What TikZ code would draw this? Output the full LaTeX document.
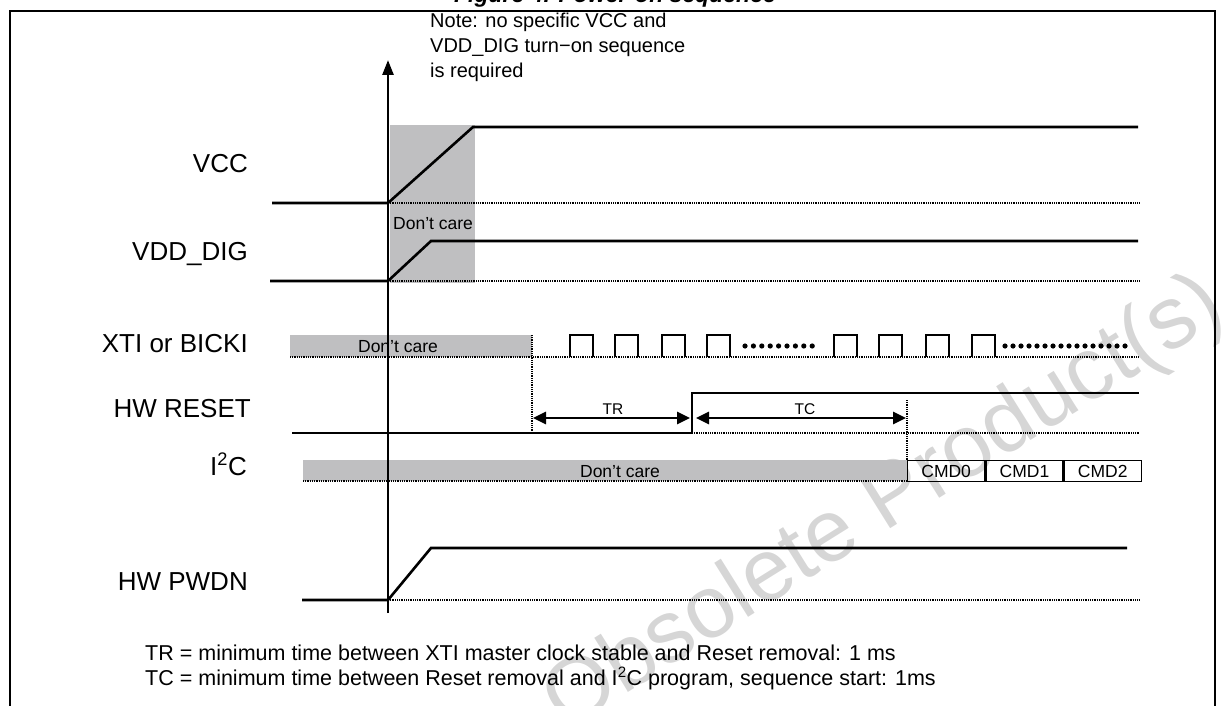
\documentclass[tikz,border=0pt]{standalone}
\usepackage{fontspec}
\setmainfont{Liberation Sans}
\usetikzlibrary{arrows.meta}
\definecolor{dcgray}{RGB}{191,191,193}
\definecolor{wmgray}{RGB}{214,214,214}
\begin{document}
\begin{tikzpicture}[x=1pt,y=-1pt,
  sig/.style={line width=2.6pt, line join=miter},
  refline/.style={line width=1.8pt, dash pattern=on 1pt off 0.8pt},
  pulse/.style={line width=1.5pt, line join=miter},
  lab/.style={font=\fontsize{26}{30}\selectfont, anchor=base east, inner sep=0pt},
  small/.style={font=\fontsize{17.5}{20}\selectfont, anchor=base, inner sep=0pt},
  tlab/.style={font=\fontsize{15.5}{18}\selectfont, anchor=base, inner sep=0pt},
  foot/.style={font=\fontsize{21.5}{24}\selectfont, anchor=base west, inner sep=0pt},
  dimarrow/.style={line width=2.6pt, {Triangle[length=13pt,width=12pt]}-{Triangle[length=13pt,width=12pt]}},
  cmdbox/.style={draw, line width=1.3pt, minimum width=77pt, minimum height=21pt, inner sep=0pt, font=\fontsize{17.5}{20}\selectfont}]
\useasboundingbox (0,0) rectangle (1225,706);
\clip (0,0) rectangle (1225,706);

% watermark
\node[rotate=32, text=wmgray, font=\fontsize{88}{90}\selectfont, inner sep=0pt] (wm) at (885,505) {Obsolete Product(s)};

% frame and title
\draw[line width=1.5pt] (10,730) -- (10,11) -- (1215,11) -- (1215,730);
\node[font=\bfseries\itshape\fontsize{23}{26}\selectfont, anchor=base, inner sep=0pt] (title) at (615,3) {Figure 4. Power-on sequence};

% note
\node[anchor=north west, align=left, font=\fontsize{20}{25}\selectfont, inner sep=0pt] (note) at (430,13) {Note: no specific VCC and\\VDD\_DIG turn−on sequence\\is required};

% gray areas
\fill[dcgray] (390,125) rectangle (475,283);
\fill[dcgray] (290,335) rectangle (532,357);
\fill[dcgray] (303,460) rectangle (907,481);

% axis
\coordinate (axb) at (388,613);
\coordinate (axt) at (388,60);
\draw[line width=2.6pt, -{Triangle[length=15pt,width=11pt]}] (axb) -- (axt);

% signal labels
\node[lab] (lvcc) at (248,172) {VCC};
\node[lab] (lvdd) at (248,260) {VDD\_DIG};
\node[lab] (lxti) at (248,352) {XTI or BICKI};
\node[lab] (lrst) at (251,417) {HW RESET};
\node[lab] (li2c) at (247,475) {I\textsuperscript{2}C};
\node[lab] (lpwd) at (248,590) {HW PWDN};

% VCC
\draw[refline] (388,203) -- (1139,203);
\draw[sig] (272,203) -- (388,203) -- (473,127) -- (1138,127);
\node[small, anchor=base west] (dc1) at (393,229) {Don’t care};

% VDD_DIG
\draw[refline] (388,281) -- (1139,281);
\draw[sig] (270,281) -- (388,281) -- (431,241) -- (1138,241);

% XTI
\draw[refline] (290,357) -- (1139,357);
\draw[refline] (532,335) -- (532,433);
\node[small] (dc2) at (398,352) {Don’t care};
\foreach \px in {570,615,662,707,834,879,926,972}{
  \draw[pulse] (\px,357) -- (\px,335) -- (\px+23,335) -- (\px+23,357);
}
\foreach \i in {0,...,8}{ \fill (745+\i*8.4,346) circle (2.6pt); }
\foreach \i in {0,...,15}{ \fill (1005+\i*8,346) circle (2.6pt); }

% HW RESET
\draw[refline] (692,433) -- (1139,433);
\draw[sig] (292,433) -- (692,433) -- (692,393) -- (1139,393);
\coordinate (trA) at (533,418);
\coordinate (trB) at (690,418);
\coordinate (tcA) at (696,418);
\coordinate (tcB) at (906,418);
\draw[dimarrow] (trA) -- (trB);
\draw[dimarrow] (tcA) -- (tcB);
\node[tlab] (tr) at (613,414) {TR};
\node[tlab] (tc) at (805,414) {TC};
\draw[refline] (907,400) -- (907,460);

% I2C
\draw[refline] (303,481) -- (907,481);
\node[small] (dc3) at (620,477) {Don’t care};
\node[cmdbox, anchor=north west] (cmd0) at (907,460) {CMD0};
\node[cmdbox, anchor=west] (cmd1) at (cmd0.east) {CMD1};
\node[cmdbox, anchor=west] (cmd2) at (cmd1.east) {CMD2};

% HW PWDN
\draw[refline] (388,600) -- (1139,600);
\draw[sig] (302,600) -- (388,600) -- (431,548) -- (1127,548);

% footnotes
\node[foot] (f1) at (145,660) {TR = minimum time between XTI master clock stable and Reset removal: 1 ms};
\node[foot] (f2) at (145,685) {TC = minimum time between Reset removal and I\textsuperscript{2}C program, sequence start: 1ms};
\end{tikzpicture}
\end{document}
